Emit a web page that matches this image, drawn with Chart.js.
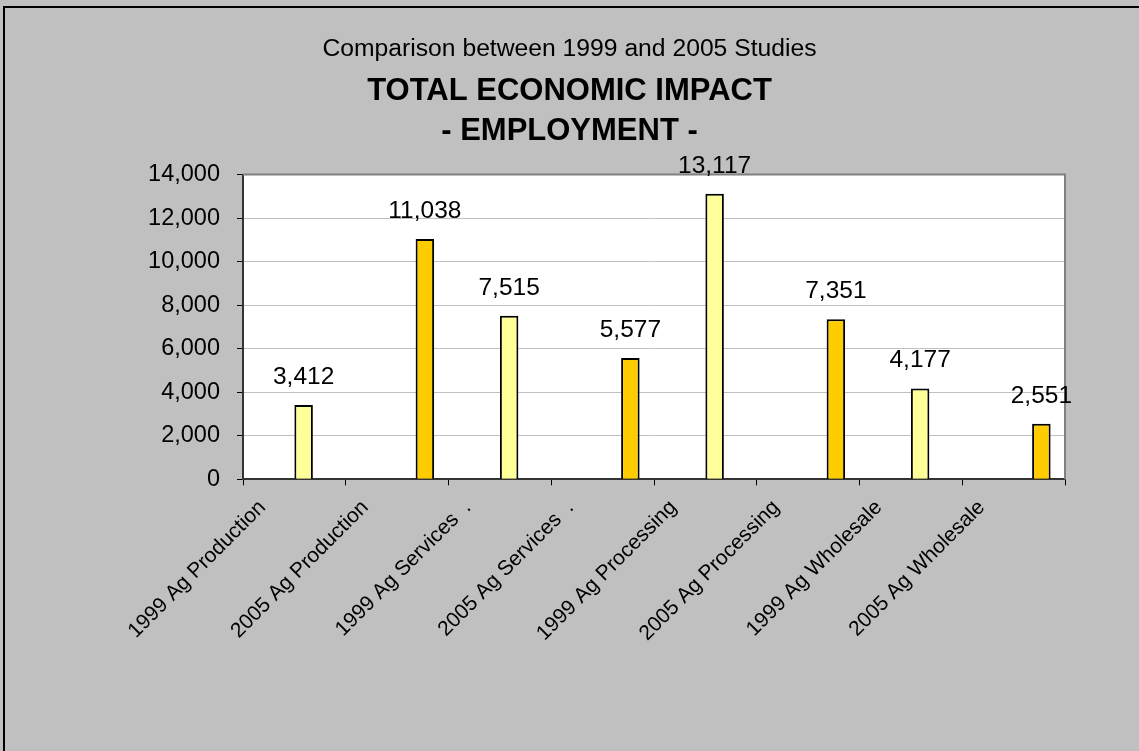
<!DOCTYPE html>
<html>
<head>
<meta charset="utf-8">
<script src="https://cdn.jsdelivr.net/npm/chart.js@4/dist/chart.umd.min.js"></script>
<style>
  html, body { margin: 0; padding: 0; background: #c0c0c0; }
  #frame { position: absolute; left: 3px; top: 6px; width: 1136px; height: 745px;
           border-left: 2px solid #000; border-top: 2px solid #000; box-sizing: border-box; }
  #wrap { position: absolute; left: 0; top: 0; width: 1139px; height: 751px; }
</style>
</head>
<body>
<div id="frame"></div>
<div id="wrap"><canvas id="chart" width="1139" height="751"></canvas></div>
<script>
const categories = [
  "1999 Ag Production",
  "2005 Ag Production",
  "1999 Ag Services  .",
  "2005 Ag Services  .",
  "1999 Ag Processing",
  "2005 Ag Processing",
  "1999 Ag Wholesale",
  "2005 Ag Wholesale"
];
// light bars = 1999 studies, orange bars = 2005 studies
const values1999 = [3412, null, 7515, null, 13117, null, 4177, null];
const values2005 = [null, 11038, null, 5577, null, 7351, null, 2551];
const emptySeries = [null, null, null, null, null, null, null, null];
const yTicks = [0, 2000, 4000, 6000, 8000, 10000, 12000, 14000];

const titleLine = "Comparison between 1999 and 2005 Studies";
const subtitleLines = ["TOTAL ECONOMIC IMPACT", "- EMPLOYMENT -"];

const FONT = "'Liberation Sans', Arial, sans-serif";
const fmt = v => v.toLocaleString("en-US");

// white plot area with gray frame on top and right
const plotArea = {
  id: "plotArea",
  beforeDraw(chart) {
    const { ctx, chartArea: a } = chart;
    ctx.save();
    ctx.fillStyle = "#ffffff";
    ctx.fillRect(a.left, a.top, a.right - a.left, a.bottom - a.top);
    ctx.restore();
  },
  beforeDatasetsDraw(chart) {
    const { ctx, chartArea: a } = chart;
    ctx.save();
    ctx.strokeStyle = "#808080";
    ctx.lineWidth = 2;
    ctx.beginPath();
    ctx.moveTo(a.left, a.top);
    ctx.lineTo(a.right, a.top);
    ctx.lineTo(a.right, a.bottom);
    ctx.stroke();
    ctx.restore();
  }
};

// value labels above bars
const valueLabels = {
  id: "valueLabels",
  afterDatasetsDraw(chart) {
    const { ctx } = chart;
    ctx.save();
    ctx.font = "24.5px " + FONT;
    ctx.fillStyle = "#000";
    ctx.textAlign = "center";
    ctx.textBaseline = "alphabetic";
    chart.data.datasets.forEach((ds, i) => {
      const meta = chart.getDatasetMeta(i);
      meta.data.forEach((bar, j) => {
        const v = ds.data[j];
        if (v == null) return;
        ctx.fillText(fmt(v), bar.x, bar.y - 21);
      });
    });
    ctx.restore();
  }
};

new Chart(document.getElementById("chart"), {
  type: "bar",
  data: {
    labels: categories,
    datasets: [
      { label: "", data: emptySeries },
      { label: "", data: emptySeries },
      {
        label: "1999",
        data: values1999,
        backgroundColor: "#ffff99",
        borderColor: "#000",
        borderWidth: 2
      },
      {
        label: "2005",
        data: values2005,
        backgroundColor: "#ffcc00",
        borderColor: "#000",
        borderWidth: 2
      }
    ]
  },
  options: {
    responsive: false,
    animation: false,
    layout: { padding: { left: 74, right: 74, top: 0, bottom: 95 } },
    datasets: { bar: { categoryPercentage: 0.72, barPercentage: 1 } },
    plugins: {
      legend: { display: false },
      tooltip: { enabled: false },
      title: {
        display: true,
        text: titleLine,
        color: "#000",
        font: { family: FONT, size: 24.7, weight: "normal" },
        padding: { top: 34, bottom: 0 }
      },
      subtitle: {
        display: true,
        text: subtitleLines,
        color: "#000",
        font: { family: FONT, size: 31, weight: "bold", lineHeight: 1.29 },
        padding: { top: 8, bottom: 23 }
      }
    },
    scales: {
      x: {
        offset: true,
        grid: {
          offset: true,
          drawOnChartArea: false,
          tickLength: 6,
          tickColor: "#000"
        },
        border: { color: "#333", width: 2 },
        ticks: {
          color: "#000",
          font: { family: FONT, size: 21 },
          maxRotation: 45,
          minRotation: 45,
          autoSkip: false,
          labelOffset: -32,
          padding: 10
        }
      },
      y: {
        min: 0,
        max: 14000,
        afterBuildTicks: axis => { axis.ticks = yTicks.map(v => ({ value: v })); },
        afterFit: axis => { axis.width = 243 - 74; },
        grid: {
          color: "#c0c0c0",
          tickColor: "#000",
          tickLength: 6
        },
        border: { color: "#333", width: 2 },
        ticks: {
          color: "#000",
          font: { family: FONT, size: 23.5 },
          padding: 17,
          callback: v => fmt(v)
        }
      }
    }
  },
  plugins: [plotArea, valueLabels]
});
</script>
</body>
</html>
